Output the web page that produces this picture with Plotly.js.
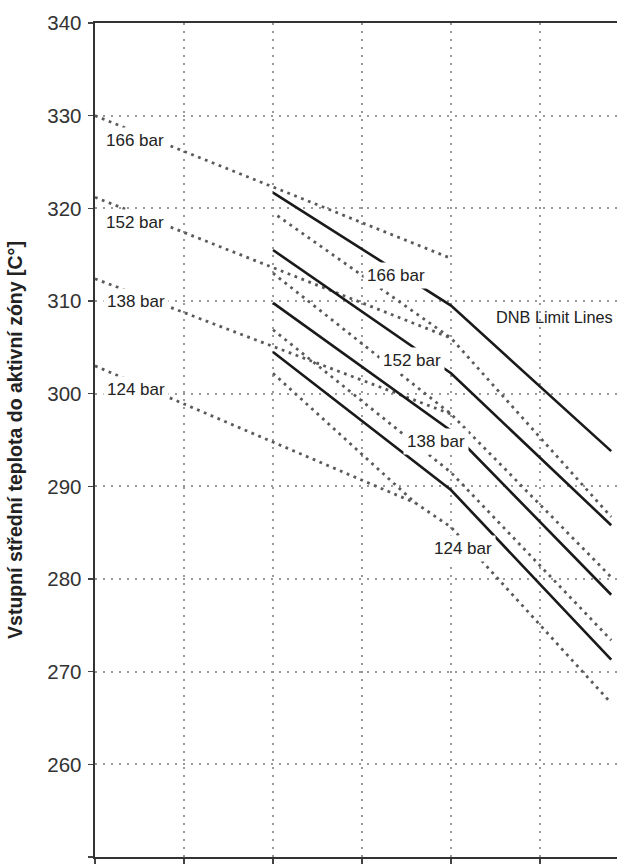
<!DOCTYPE html>
<html><head><meta charset="utf-8">
<script src="https://cdn.plot.ly/plotly-3.0.1.min.js"></script>
<style>html,body{margin:0;padding:0;background:#fff;overflow:hidden}#chart{width:617px;height:864px}</style>
</head><body><div id="chart"></div>
<script>
// x axis: fraction of rated power (grid every 0.2); y: inlet temperature [°C]
const dnbX = [0.4, 0.8, 1.16];
const dnb166 = [321.7, 309.5, 293.8];
const dnb152 = [315.5, 302.2, 285.8];
const dnb138 = [309.8, 296.0, 278.3];
const dnb124 = [304.5, 289.6, 271.3];

// shallow dotted lines from zero power
const lowX = [0, 0.8];
const low166 = [330.0, 314.6];
const low152 = [321.2, 306.0];
const low138 = [312.4, 297.8];
const low124X = [0, 0.72];
const low124 = [303.0, 288.2];

// steep dotted lines
const steepBX = [0.41, 0.8, 1.16];
const steepB = [319.2, 306.0, 286.7];
const steepCX = [0.4, 0.8, 1.16];
const steepC = [313.0, 297.8, 280.2];
const steepDX = [0.4, 0.8, 1.16];
const steepD = [306.9, 291.5, 273.4];
const steepEX = [0.4, 0.72, 0.8, 1.16];
const steepE = [302.2, 288.2, 285.6, 266.6];

const pressureLabels = ['166 bar', '152 bar', '138 bar', '124 bar'];
const leftLabelX = [0.09, 0.09, 0.092, 0.092];
const leftLabelY = [327.3, 318.5, 309.9, 300.5];
const midLabelX = [0.676, 0.712, 0.766, 0.827];
const midLabelY = [312.7, 303.6, 294.8, 283.3];

const solidStyle = {color: '#1a1a1a', width: 2.6};
const dotStyle = {color: '#5a5a5a', width: 2.8, dash: '2.8px,4.6px'};

const traces = [];
function add(x, y, line) {
  traces.push({x: x, y: y, type: 'scatter', mode: 'lines', line: line, hoverinfo: 'skip', showlegend: false});
}
add(lowX, low166, dotStyle);
add(lowX, low152, dotStyle);
add(lowX, low138, dotStyle);
add(low124X, low124, dotStyle);
add(steepBX, steepB, dotStyle);
add(steepCX, steepC, dotStyle);
add(steepDX, steepD, dotStyle);
add(steepEX, steepE, dotStyle);
add(dnbX, dnb166, solidStyle);
add(dnbX, dnb152, solidStyle);
add(dnbX, dnb138, solidStyle);
add(dnbX, dnb124, solidStyle);

const font = 'Liberation Sans, Arial, sans-serif';
const annotations = [];
pressureLabels.forEach((t, i) => {
  annotations.push({x: leftLabelX[i], y: leftLabelY[i], text: t, showarrow: false, xanchor: 'center', yanchor: 'middle',
    bgcolor: '#ffffff', borderpad: 3, font: {family: font, size: 17, color: '#222'}});
  annotations.push({x: midLabelX[i], y: midLabelY[i], text: t, showarrow: false, xanchor: 'center', yanchor: 'middle',
    bgcolor: '#ffffff', borderpad: 3, font: {family: font, size: 17, color: '#222'}});
});
annotations.push({x: 0.897, y: 308.3, text: 'DNB Limit Lines', showarrow: false, xanchor: 'left', yanchor: 'middle',
  font: {family: font, size: 16.3, color: '#222'}});

const layout = {
  width: 617, height: 864,
  margin: {l: 95, r: 0, t: 23, b: 7},
  paper_bgcolor: '#fff', plot_bgcolor: '#fff',
  font: {family: font, color: '#333'},
  xaxis: {
    range: [0, 1.173], tick0: 0, dtick: 0.2, showticklabels: false,
    ticks: 'outside', ticklen: 5, tickwidth: 1.5, tickcolor: '#444',
    showline: true, linecolor: '#333', linewidth: 2.4, mirror: true,
    showgrid: true, gridcolor: '#999', gridwidth: 2, griddash: '2px,6px', zeroline: false
  },
  yaxis: {
    range: [250, 340], tick0: 250, dtick: 10,
    ticks: 'outside', ticklen: 5, tickwidth: 1.5, tickcolor: '#444',
    tickfont: {family: font, size: 20.5, color: '#333'}, ticklabelstandoff: 2,
    showline: true, linecolor: '#333', linewidth: 2.4, mirror: false,
    showgrid: true, gridcolor: '#999', gridwidth: 2, griddash: '2px,6px', zeroline: false,
    title: {text: 'Vstupní střední teplota do aktivní zóny [C°]', standoff: 20,
      font: {family: font, size: 19.5, color: '#222', weight: 'bold'}}
  },
  annotations: annotations
};
Plotly.newPlot('chart', traces, layout, {staticPlot: true, displayModeBar: false});
</script></body></html>
